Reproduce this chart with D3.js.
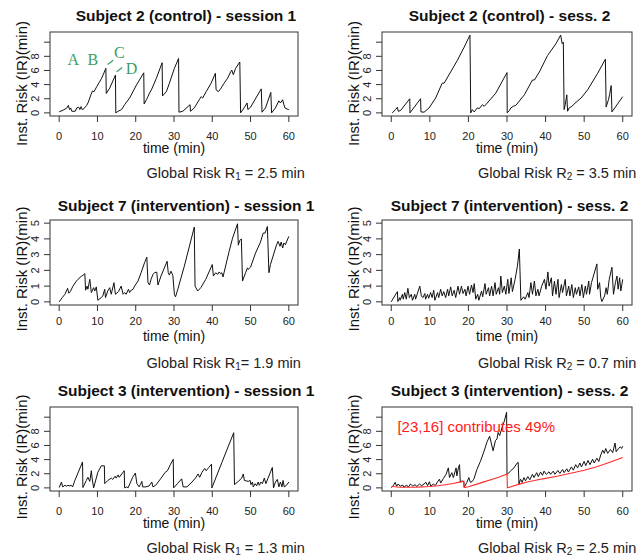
<!DOCTYPE html>
<html><head><meta charset="utf-8">
<script src="https://cdn.jsdelivr.net/npm/d3@7"></script>
<style>
body{margin:0;background:#fff;}
svg{display:block;font-family:"Liberation Sans",Arial,Helvetica,sans-serif;}
</style></head><body>
<svg id="chart" width="641" height="559"></svg>
<script>
// ---------- data ----------
const xTicks = [0,10,20,30,40,50,60];
const yTicksTall = [0,2,4,6,8,10];
const yTickLabelsTall = ["0","2","4","6","8",""];
const yTicksShort = [0,1,2,3,4,5];
const yTickLabelsShort = ["0","1","2","3","4","5"];
const yMaxTall = 11;
const yMaxShort = 5;

const titles = [
  "Subject 2 (control) - session 1", "Subject 2 (control) - sess. 2",
  "Subject 7 (intervention) - session 1", "Subject 7 (intervention) - sess. 2",
  "Subject 3 (intervention) - session 1", "Subject 3 (intervention) - sess. 2"
];
const riskSub = ["1","2","1","2","1","2"];
const riskValues = ["2.5","3.5","1.9","0.7","1.3","2.5"];
const xLabel = "time (min)";
const yLabel = "Inst. Risk (IR)(min)";

const subj2Sess1 = [[0,0.15],[1.1,0.4],[2.0,0.7],[2.4,1.07],[2.7,0.47],[3.0,0.7],[3.3,0.23],[4.2,0.23],[4.6,0.7],[5.1,0.8],[5.4,0.47],[5.7,0.88],[6.1,0.42],[6.6,0.7],[7.2,1.07],[7.6,1.5],[8.3,2.56],[8.7,3.1],[9.1,3.0],[9.8,3.7],[11.1,4.9],[12.2,6.3],[12.3,2.74],[13.2,3.5],[14.7,5.35],[14.8,0],[15.4,0.23],[16.3,0.47],[17.1,1.16],[18.4,2.1],[20.2,3.95],[22.1,5.67],[22.2,1.26],[22.8,1.86],[23.2,2.3],[23.6,2.8],[24.1,3.26],[25.4,4.9],[26.9,7.1],[27.0,2.4],[28.0,3.0],[28.8,4.2],[30.1,6.3],[31.2,7.7],[31.3,0.1],[32.3,0.23],[34.2,1.16],[34.3,0.23],[35.3,0.7],[36.6,1.86],[37.1,2.3],[37.5,2.1],[38.4,3.0],[39.7,4.2],[40.8,5.6],[41.0,3.26],[41.6,3.0],[42.3,3.5],[43.1,4.2],[44.0,4.9],[44.8,5.8],[45.1,6.05],[45.5,5.4],[46.1,6.3],[47.2,7.2],[47.4,0],[48.3,0.7],[49.1,1.4],[49.3,0.47],[50.0,0.8],[52.8,3.4],[53.0,0.1],[53.9,0.7],[55.3,2.9],[55.5,0],[56.5,0.7],[57.4,1.7],[57.8,1.4],[58.4,1.86],[58.7,1.16],[59.0,0.7],[59.5,0.56],[60.0,0.47]];

const subj2Sess2 = [[0.26,0],[1.1,0.47],[1.6,0.8],[1.8,0.23],[2.4,0.33],[4.8,2.0],[4.85,0],[7.6,2.0],[7.7,0.14],[8.5,0.1],[9.8,0.7],[11.5,2.1],[13.2,4.2],[13.7,4.2],[15.4,5.8],[17.1,7.4],[18.9,9.3],[20.4,11.0],[20.6,0],[21.0,0.47],[21.5,0.14],[22.3,0.7],[22.8,0.6],[23.6,1.16],[24.1,0.93],[24.9,1.4],[27.1,2.8],[30.0,5.7],[30.05,0],[30.6,0.33],[31.0,0.7],[31.6,0.93],[32.3,1.07],[34.5,2.56],[36.6,4.65],[37.1,4.65],[38.4,5.8],[40.5,8.1],[42.7,9.8],[43.9,11.0],[44.3,9.8],[44.6,10.0],[44.8,0.47],[45.1,1.16],[45.5,2.56],[45.7,0.23],[46.1,0.7],[46.8,0.93],[47.9,1.5],[49.2,2.1],[50.9,3.26],[53.5,5.6],[55.5,7.6],[55.7,0.84],[56.3,1.86],[56.6,2.6],[57.0,3.86],[57.2,0.14],[60.0,2.3]];

const subj7Sess1 = [[0,0],[0.8,0.27],[1.5,0.48],[2.2,0.86],[2.5,0.55],[2.9,0.65],[3.6,1.0],[4.5,1.32],[4.9,1.43],[5.4,1.53],[5.8,1.64],[6.2,1.68],[6.7,1.79],[6.9,0.74],[7.3,1.0],[7.5,0.8],[8.0,1.43],[8.4,0.59],[9.0,0.9],[9.3,0.69],[9.7,0.95],[10.1,0.1],[11.0,0.27],[11.4,0.38],[11.9,0.8],[12.1,0.27],[12.7,0.69],[13.2,0.9],[13.6,0.48],[14.3,1.22],[14.7,0.48],[15.5,0.65],[16.2,1.0],[16.7,0.48],[17.1,0.59],[17.5,0.48],[18.1,0.8],[18.4,0.59],[18.8,0.74],[19.3,0.8],[19.7,1.0],[20.6,1.32],[21.4,1.85],[22.3,2.48],[22.9,2.84],[23.2,1.22],[23.6,1.07],[24.0,1.43],[24.5,1.74],[24.9,1.85],[25.5,1.89],[25.8,1.07],[26.6,1.64],[28.2,2.58],[28.5,1.85],[28.8,1.7],[29.2,1.95],[29.7,1.68],[30.1,0.48],[30.4,0.32],[31.0,0.8],[32.7,2.27],[35.3,4.75],[35.5,1.0],[36.2,0.69],[37.0,0.9],[38.3,1.43],[40.0,2.37],[40.3,1.64],[40.9,1.85],[41.4,1.74],[41.8,1.9],[42.2,1.78],[42.5,1.85],[42.8,1.58],[44.4,3.2],[45.3,4.05],[46.6,4.96],[46.8,3.6],[47.2,3.9],[47.6,4.0],[47.9,1.32],[48.7,1.85],[49.2,2.16],[49.4,2.06],[50.0,2.2],[51.3,3.1],[52.6,3.8],[53.3,4.37],[53.8,4.37],[54.4,4.79],[54.8,1.85],[55.2,2.37],[56.8,3.63],[57.2,3.84],[57.7,3.53],[58.0,3.8],[58.4,3.42],[58.7,3.74],[59.1,3.63],[60.0,4.16]];

const subj7Sess2 = [[0,0],[0.9,0.38],[1.6,0.65],[1.7,0.02],[2.2,0.27],[2.3,0.1],[2.9,0.48],[3.1,0.17],[3.5,0.59],[3.9,0.17],[4.3,0.86],[4.7,0.27],[5.2,0.48],[5.5,0.1],[6.1,0.48],[6.3,0.17],[7.4,1.0],[7.8,0.38],[8.2,0.27],[8.7,0.53],[8.9,0.17],[9.4,0.48],[9.7,0.23],[10.2,0.59],[10.6,0.27],[11.0,0.74],[11.3,0.1],[12.0,0.59],[12.3,0.27],[12.8,0.8],[13.2,0.38],[13.6,0.65],[14.1,0.27],[14.6,0.8],[14.9,0.38],[15.4,0.95],[15.8,0.38],[16.3,0.74],[16.7,0.27],[17.3,1.0],[17.7,0.48],[18.2,1.0],[18.6,0.53],[19.1,0.8],[19.4,0.38],[19.9,1.0],[20.3,0.48],[20.8,1.07],[21.2,0.59],[21.5,1.16],[21.9,0.17],[22.4,0.48],[22.7,0.1],[23.4,0.69],[23.7,0.32],[24.3,1.16],[24.6,0.48],[25.2,0.9],[25.5,0.38],[26.0,1.0],[26.4,0.38],[26.9,1.22],[27.2,0.48],[27.8,0.9],[28.1,0.48],[28.4,1.64],[28.8,0.59],[29.3,1.0],[29.7,0.48],[30.2,1.43],[30.5,0.53],[31.1,1.53],[31.4,0.65],[32.1,1.43],[32.7,2.27],[33.2,3.36],[33.6,0.1],[34.3,0.32],[34.7,0.17],[35.4,0.59],[35.7,0.27],[36.2,1.22],[36.6,0.48],[37.1,1.32],[37.5,0.38],[38.0,0.8],[38.3,0.38],[39.0,1.0],[39.7,1.43],[40.1,0.8],[40.6,1.9],[40.9,1.0],[41.5,1.53],[41.8,0.38],[42.3,1.32],[42.7,0.48],[43.2,1.43],[43.5,0.27],[44.1,1.1],[44.4,0.59],[45.1,1.43],[45.4,0.38],[46.0,1.0],[46.3,0.38],[46.8,1.1],[47.2,0.27],[47.7,0.9],[48.0,0.48],[48.6,0.95],[48.9,0.38],[49.4,1.1],[49.8,0.27],[50.3,1.0],[50.6,0.48],[51.2,1.32],[51.4,0.48],[51.9,1.22],[53.3,2.41],[53.5,0.8],[54.0,1.22],[54.3,0.27],[54.6,0.02],[55.3,0.38],[55.7,0.9],[56.0,0.48],[56.5,1.43],[57.2,2.2],[57.6,0.48],[58.1,1.22],[58.5,1.64],[58.8,0.8],[59.2,1.53],[59.5,0.69],[60.0,1.43]];

const subj3Sess1 = [[0,0.05],[0.6,0.83],[0.9,0.14],[1.5,0.37],[1.9,0.23],[2.3,0.37],[2.8,0.28],[3.2,0.37],[3.5,0.14],[4.1,1.05],[6.1,3.67],[6.2,0.05],[7.1,1.05],[7.5,1.5],[8.0,0.92],[8.4,2.43],[8.6,1.38],[9.0,0],[10.1,2.2],[11.0,3.12],[11.8,3.12],[11.9,0.6],[12.7,1.05],[13.6,1.38],[14.0,1.2],[14.6,1.65],[14.9,1.38],[15.4,1.83],[15.7,1.5],[16.4,2.0],[17.0,2.43],[17.1,0],[17.6,0.14],[18.0,0],[19.2,1.5],[19.9,2.1],[20.3,0.6],[20.9,0.14],[21.2,0.46],[21.6,0.92],[21.8,0.14],[22.6,0.14],[23.5,0.28],[24.2,0.83],[24.5,0.14],[25.2,0.37],[26.5,1.28],[27.7,2.2],[28.3,2.43],[29.1,3.35],[29.8,4.04],[29.9,0],[30.9,0.6],[32.0,1.28],[32.4,0.14],[33.4,0.14],[34.7,0.83],[35.6,1.38],[36.3,1.97],[36.7,1.5],[37.3,2.2],[38.0,2.75],[38.4,2.43],[39.1,2.89],[39.8,3.35],[39.9,0],[42.5,3.58],[45.6,7.8],[45.8,0.46],[46.8,0.92],[47.7,1.38],[48.1,1.97],[48.4,1.05],[49.4,0.92],[49.9,1.05],[50.1,0.46],[50.5,0.83],[50.7,0.14],[51.2,0.6],[51.6,0.28],[52.0,0.83],[52.3,0.37],[52.7,0.83],[53.1,0.6],[53.6,1.38],[54.0,0.6],[54.5,1.28],[55.7,2.89],[56.0,0],[56.5,0.83],[57.0,1.2],[57.4,0.14],[57.8,0.83],[58.2,0.14],[58.5,1.05],[58.8,0.14],[59.4,0.37],[60.0,0.83]];

const subj3Sess2 = [[0,0.05],[0.5,0.3],[1.0,0.78],[1.4,0.23],[1.8,0.55],[2.3,0.23],[3.0,0.4],[3.3,0.1],[4.0,0.4],[4.4,0.1],[5.0,0.55],[5.6,0.23],[6.2,0.46],[6.6,0.18],[7.3,0.55],[7.9,0.32],[8.5,0.55],[9.0,0.78],[9.4,0.32],[9.9,0.87],[10.2,0.23],[10.9,0.55],[11.4,0.32],[12.0,0.87],[12.5,1.23],[12.8,0.68],[13.5,1.32],[14.2,1.92],[14.8,2.83],[15.1,1.46],[15.7,2.15],[16.1,1.46],[16.8,2.83],[17.0,1.69],[17.4,2.83],[17.7,3.29],[17.9,0.78],[18.3,1.0],[18.8,0.87],[18.9,0.1],[19.6,0.78],[20.1,1.46],[20.5,0.78],[20.9,0.87],[21.4,1.23],[22.2,2.6],[23.1,3.74],[24.0,5.1],[24.8,6.48],[25.5,7.3],[26.4,5.25],[27.0,6.7],[27.4,6.9],[27.7,7.85],[28.1,7.4],[28.7,8.5],[29.3,9.45],[29.9,10.7],[30.0,1.92],[30.2,2.0],[30.9,2.37],[31.8,2.83],[32.6,3.5],[32.9,3.6],[33.1,0.55],[33.5,1.23],[33.9,0.78],[34.4,1.46],[34.8,1.0],[35.4,1.6],[35.9,1.14],[36.6,1.92],[37.0,1.46],[37.7,2.15],[38.1,1.6],[38.7,2.24],[39.2,1.78],[39.6,2.37],[40.2,1.92],[40.9,2.28],[41.3,1.92],[42.0,2.37],[42.4,1.92],[43.2,2.47],[43.7,2.05],[44.4,2.6],[44.8,2.15],[45.5,2.7],[45.9,2.24],[46.7,2.97],[47.2,2.51],[47.8,3.29],[48.3,2.83],[48.9,3.52],[49.3,2.97],[50.0,3.74],[50.4,3.15],[51.0,3.88],[51.5,3.29],[52.2,4.06],[52.6,3.52],[53.3,4.2],[53.8,3.74],[54.3,4.66],[54.8,5.34],[55.2,4.89],[55.6,5.57],[56.1,4.89],[56.8,5.43],[57.4,4.98],[58.0,6.35],[58.3,5.11],[58.9,5.57],[59.4,5.8],[59.7,5.57],[60.0,5.89]];

const subj3Sess2Part = [[0,0.1],[0.5,0.23],[1,0.15],[2,0.1],[4,0.08],[6,0.1],[8,0.15],[10,0.2],[12,0.3],[14,0.45],[16,0.62],[18,0.85],[18.8,0.95],[18.9,0.05],[20,0.15],[22,0.5],[24,0.85],[26,1.2],[28,1.55],[30,1.95],[30.1,0.02],[31,0.15],[33,0.5],[35,0.8],[38,1.15],[40,1.35],[43,1.65],[45,1.9],[48,2.25],[50,2.5],[53,2.95],[55,3.3],[57,3.7],[60,4.3]];

const markLetters = ["A","B","C","D"];
const markT = [2.2, 7.4, 14.3, 17.4];
const markV = [6.75, 6.75, 7.78, 5.5];
const markLines = [[[12.65,6.85],[14.13,7.44]],[[14.99,5.83],[16.47,6.43]]];
const partLabel = "[23,16] contributes 49%";
const partLabelT = 1.6, partLabelV = 7.97;

// ---------- layout ----------
const cols = [
  {left:50, right:298, titleX:186, riskX:146.5, yLabX:27, yTickX:39},
  {left:382, right:632, titleX:509.5, riskX:478, yLabX:358.5, yTickX:371}
];
const rows = [
  {top:32, bottom:116, titleY:21, tickY:139.5, xLabY:153, riskY:178, yLabY:83.5, yMax:yMaxTall, ticks:yTicksTall, labels:yTickLabelsTall},
  {top:220, bottom:305, titleY:210.5, tickY:325, xLabY:341, riskY:368, yLabY:269, yMax:yMaxShort, ticks:yTicksShort, labels:yTickLabelsShort},
  {top:407, bottom:491, titleY:396, tickY:514.5, xLabY:528, riskY:553, yLabY:457, yMax:yMaxTall, ticks:yTicksTall, labels:yTickLabelsTall}
];
const series = [subj2Sess1, subj2Sess2, subj7Sess1, subj7Sess2, subj3Sess1, subj3Sess2];

const svg = d3.select("#chart");
const axisCol = "#333";

series.forEach((data, i) => {
  const c = cols[i % 2], r = rows[Math.floor(i / 2)];
  const xs = d3.scaleLinear().domain([0 - 60*0.04, 60 + 60*0.04]).range([c.left, c.right]);
  const ys = d3.scaleLinear().domain([0 - r.yMax*0.04, r.yMax*1.04]).range([r.bottom, r.top]);
  const g = svg.append("g");

  g.append("rect").attr("x", c.left).attr("y", r.top)
    .attr("width", c.right - c.left).attr("height", r.bottom - r.top)
    .attr("fill", "none").attr("stroke", axisCol).attr("stroke-width", 1);

  xTicks.forEach(t => {
    g.append("line").attr("x1", xs(t)).attr("x2", xs(t))
      .attr("y1", r.bottom).attr("y2", r.bottom + 6)
      .attr("stroke", axisCol).attr("stroke-width", 1);
    g.append("text").attr("x", xs(t)).attr("y", r.tickY)
      .attr("text-anchor", "middle").attr("font-size", 11).attr("fill", "#222").text(t);
  });
  r.ticks.forEach((v, k) => {
    g.append("line").attr("x1", c.left - 6).attr("x2", c.left)
      .attr("y1", ys(v)).attr("y2", ys(v))
      .attr("stroke", axisCol).attr("stroke-width", 1);
    if (r.labels[k]) {
      g.append("text").attr("x", c.yTickX).attr("y", ys(v))
        .attr("transform", `rotate(-90,${c.yTickX},${ys(v)})`)
        .attr("text-anchor", "middle").attr("font-size", 11).attr("fill", "#222")
        .text(r.labels[k]);
    }
  });

  const line = d3.line().x(d => xs(d[0])).y(d => ys(d[1]));
  g.append("path").datum(data).attr("d", line)
    .attr("fill", "none").attr("stroke", "#111").attr("stroke-width", 1)
    .attr("stroke-linejoin", "round");

  if (i === 5) {
    g.append("path").datum(subj3Sess2Part).attr("d", line)
      .attr("fill", "none").attr("stroke", "#ff2a2a").attr("stroke-width", 1.1);
    g.append("text").attr("x", xs(partLabelT)).attr("y", ys(partLabelV))
      .attr("font-size", 15).attr("fill", "#ff2020").text(partLabel);
  }
  if (i === 0) {
    markLetters.forEach((L, k) => {
      g.append("text").attr("x", xs(markT[k])).attr("y", ys(markV[k]))
        .attr("font-family", "'Liberation Serif','Times New Roman',serif")
        .attr("font-size", 16).attr("fill", "#3a9e64").text(L);
    });
    markLines.forEach(seg => {
      g.append("line").attr("x1", xs(seg[0][0])).attr("y1", ys(seg[0][1]))
        .attr("x2", xs(seg[1][0])).attr("y2", ys(seg[1][1]))
        .attr("stroke", "#3a9e64").attr("stroke-width", 1.2);
    });
  }

  g.append("text").attr("x", c.titleX).attr("y", r.titleY)
    .attr("text-anchor", "middle").attr("font-size", 15.5).attr("font-weight", "bold")
    .attr("fill", "#111").text(titles[i]);
  g.append("text").attr("x", (c.left + c.right) / 2).attr("y", r.xLabY)
    .attr("text-anchor", "middle").attr("font-size", 14).attr("fill", "#111").text(xLabel);
  g.append("text").attr("x", c.yLabX).attr("y", r.yLabY)
    .attr("transform", `rotate(-90,${c.yLabX},${r.yLabY})`)
    .attr("text-anchor", "middle").attr("font-size", 15).attr("fill", "#111").text(yLabel);
  const gr = g.append("text").attr("x", c.riskX).attr("y", r.riskY)
    .attr("font-size", 14.5).attr("fill", "#222");
  gr.append("tspan").text("Global Risk R");
  gr.append("tspan").attr("font-size", 10).attr("dy", 2).text(riskSub[i]);
  gr.append("tspan").attr("dy", -2).text((i === 2 ? "= " : " = ") + riskValues[i] + " min");
});
</script>
</body></html>
